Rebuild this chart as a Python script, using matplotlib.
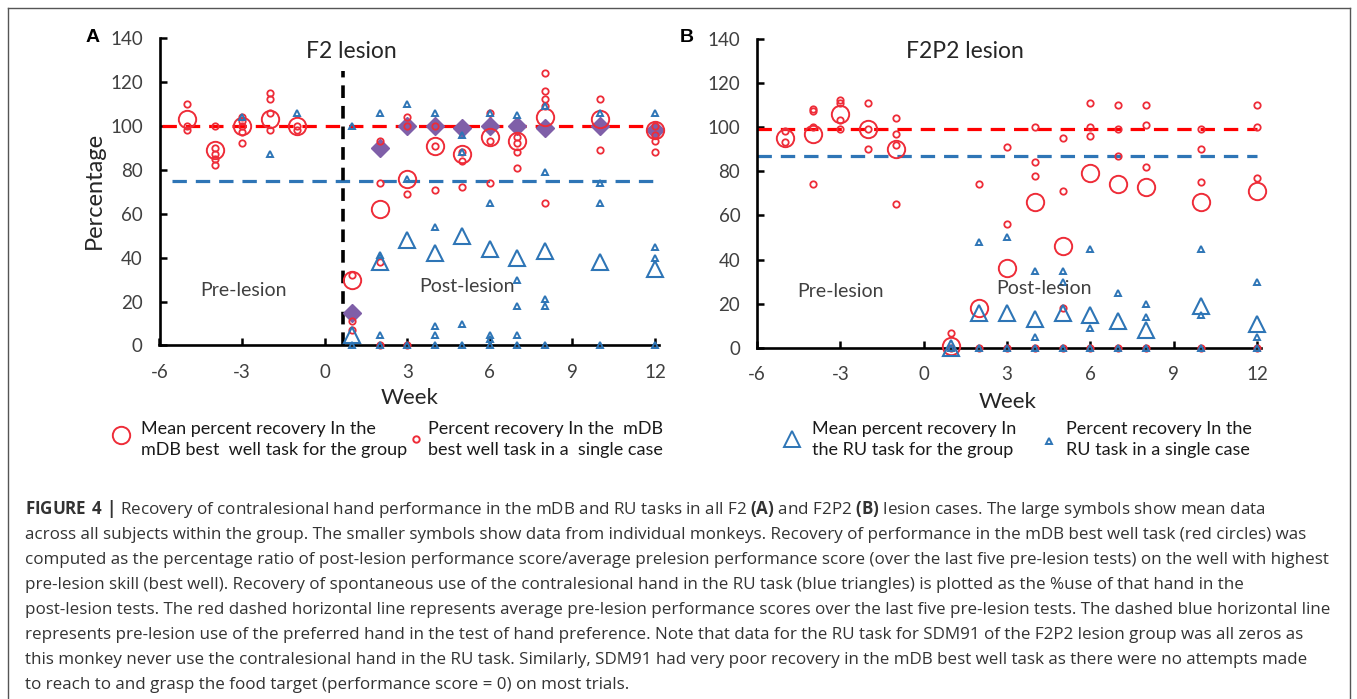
import matplotlib
matplotlib.use("Agg")
import matplotlib.pyplot as plt
from matplotlib.lines import Line2D

# ---------------- panel A : F2 lesion ----------------
a_weeks = [-5, -4, -3, -2, -1, 1, 2, 3, 4, 5, 6, 7, 8, 10, 12]
a_mdb_mean = [103, 89, 100, 103, 100, 30, 62, 76, 91, 87, 95, 93, 104, 103, 98]
a_mdb_cases = [
    [110, 100, 98],
    [100, 90, 87, 85, 82],
    [104, 102, 100, 97, 92],
    [115, 112, 106, 98],
    [100, 98],
    [32, 11, 7],
    [93, 74, 38, 0],
    [104, 100, 69, 0],
    [100, 91, 71],
    [88, 84, 72],
    [106, 93, 74],
    [95, 92, 88, 81],
    [124, 116, 112, 109, 65],
    [112, 89],
    [100, 96, 93, 88],
]
a_ru_weeks = [-3, -2, -1, 1, 2, 3, 4, 5, 6, 7, 8, 10, 12]
a_ru_cases = [
    [104],
    [87],
    [106],
    [100, 0],
    [106, 41, 5, 0],
    [110, 76, 0],
    [106, 54, 9, 5, 0],
    [96, 88, 10, 0],
    [106, 65, 5, 3, 0],
    [105, 30, 18, 5, 0],
    [109, 79, 21, 18, 0],
    [106, 74, 65, 0],
    [106, 45, 40, 0],
]
a_post_weeks = [1, 2, 3, 4, 5, 6, 7, 8, 10, 12]
a_ru_mean = [5, 38, 48, 42, 50, 44, 40, 43, 38, 35]
a_diamond = [15, 90, 100, 100, 99, 100, 100, 99, 100, 98]
a_mdb_base = 100
a_ru_base = 75
a_lesion_week = 0.68

# ---------------- panel B : F2P2 lesion ----------------
b_weeks = [-5, -4, -3, -2, -1, 1, 2, 3, 4, 5, 6, 7, 8, 10, 12]
b_mdb_mean = [95, 97, 106, 99, 90, 1, 18, 36, 66, 46, 79, 74, 73, 66, 71]
b_mdb_cases = [
    [98, 93],
    [108, 107, 100, 74],
    [112, 111, 103, 99],
    [111, 99, 90],
    [104, 97, 92, 65],
    [7, 0],
    [74, 0],
    [91, 56, 0],
    [100, 84, 78, 0],
    [95, 71, 18, 0],
    [111, 100, 96, 0],
    [110, 99, 87, 0],
    [110, 101, 82, 0],
    [99, 90, 75, 0],
    [110, 100, 77, 0],
]
b_post_weeks = [1, 2, 3, 4, 5, 6, 7, 8, 10, 12]
b_ru_mean = [0, 16, 16, 13, 16, 15, 12, 8, 19, 11]
b_ru_cases = [
    [0],
    [48, 0],
    [50, 0],
    [35, 5, 0],
    [35, 30, 0],
    [45, 9, 0],
    [25, 0],
    [20, 14, 0],
    [45, 15, 0],
    [30, 5, 0],
]
b_mdb_base = 99
b_ru_base = 87

x_ticks = [-6, -3, 0, 3, 6, 9, 12]
y_ticks = [0, 20, 40, 60, 80, 100, 120, 140]

caption_lines = [
    r"$\mathbf{FIGURE\ 4\ |}$ Recovery of contralesional hand performance in the mDB and RU tasks in all F2 $\mathbf{(A)}$ and F2P2 $\mathbf{(B)}$ lesion cases. The large symbols show mean data",
    "across all subjects within the group. The smaller symbols show data from individual monkeys. Recovery of performance in the mDB best well task (red circles) was",
    "computed as the percentage ratio of post-lesion performance score/average prelesion performance score (over the last five pre-lesion tests) on the well with highest",
    "pre-lesion skill (best well). Recovery of spontaneous use of the contralesional hand in the RU task (blue triangles) is plotted as the %use of that hand in the",
    "post-lesion tests. The red dashed horizontal line represents average pre-lesion performance scores over the last five pre-lesion tests. The dashed blue horizontal line",
    "represents pre-lesion use of the preferred hand in the test of hand preference. Note that data for the RU task for SDM91 of the F2P2 lesion group was all zeros as",
    "this monkey never use the contralesional hand in the RU task. Similarly, SDM91 had very poor recovery in the mDB best well task as there were no attempts made",
    "to reach to and grasp the food target (performance score = 0) on most trials.",
]

RED = "#EE2C38"
BLUE = "#2E75B6"
PURPLE = "#7F5FA8"
TICK_GREY = "#404040"

plt.rcParams["font.family"] = ["Lato", "DejaVu Sans"]
plt.rcParams["axes.unicode_minus"] = False
plt.rcParams["mathtext.fontset"] = "custom"
plt.rcParams["mathtext.rm"] = "Open Sans"
plt.rcParams["mathtext.bf"] = "Open Sans:bold"

W, H = 1357, 699


def fx(px):
    return px / W


def fy(py):
    return 1 - py / H


def flatten(weeks, groups):
    xs, ys = [], []
    for w, vals in zip(weeks, groups):
        for v in vals:
            xs.append(w)
            ys.append(v)
    return xs, ys


def style_axes(ax):
    ax.set_xlim(-6, 12.15)
    ax.set_ylim(0, 140)
    ax.set_xticks(x_ticks)
    ax.set_yticks(y_ticks)
    for side in ("top", "right"):
        ax.spines[side].set_visible(False)
    for side in ("left", "bottom"):
        ax.spines[side].set_linewidth(1.9)
        ax.spines[side].set_color("black")
    ax.tick_params(direction="in", length=5, width=1.8, labelsize=13.5,
                   labelcolor=TICK_GREY, color="black")
    ax.tick_params(axis="x", pad=13)
    ax.tick_params(axis="y", pad=12)
    ax.patch.set_alpha(0)


def draw_points(ax, mdb_w, mdb_cases, mdb_mean, ru_w, ru_cases, ru_mean_w, ru_mean):
    xs, ys = flatten(mdb_w, mdb_cases)
    ax.plot(xs, ys, "o", ms=4.6, mfc="none", mec=RED, mew=1.3, clip_on=False, zorder=4)
    ax.plot(mdb_w, mdb_mean, "o", ms=12.5, mfc="none", mec=RED, mew=1.4, clip_on=False, zorder=4)
    xs, ys = flatten(ru_w, ru_cases)
    ax.plot(xs, ys, "^", ms=5, mfc="none", mec=BLUE, mew=1.4, clip_on=False, zorder=4)
    ax.plot(ru_mean_w, ru_mean, "^", ms=12, mfc="none", mec=BLUE, mew=1.5, clip_on=False, zorder=4)


fig = plt.figure(figsize=(W / 100, H / 100), dpi=100)

# panel A
axA = fig.add_axes([fx(159.5), fy(345.5), fx(659.2) - fx(159.5), (345.5 - 38) / H])
style_axes(axA)
axA.hlines(a_mdb_base, -5.9, 12.0, colors="#FF0000", linestyles=(0, (4.5, 2.8)), lw=2.3, zorder=2)
axA.hlines(a_ru_base, -5.55, 12.1, colors=BLUE, linestyles=(0, (4.5, 2.8)), lw=2.3, zorder=2)
axA.vlines(a_lesion_week, 0, 125, colors="black", linestyles=(0, (3.5, 2.2)), lw=2.6, zorder=2)
axA.plot(a_post_weeks, a_diamond, "D", ms=9, color=PURPLE, mec=PURPLE, clip_on=False, zorder=3)
draw_points(axA, a_weeks, a_mdb_cases, a_mdb_mean, a_ru_weeks, a_ru_cases, a_post_weeks, a_ru_mean)

# panel B
axB = fig.add_axes([fx(757), fy(348), fx(1261.2) - fx(757), (348 - 38.5) / H])
style_axes(axB)
axB.hlines(b_mdb_base, -6, 12.0, colors="#FF0000", linestyles=(0, (4.5, 2.8)), lw=2.3, zorder=2)
axB.hlines(b_ru_base, -6, 12.0, colors=BLUE, linestyles=(0, (4.5, 2.8)), lw=2.3, zorder=2)
draw_points(axB, b_weeks, b_mdb_cases, b_mdb_mean, b_post_weeks, b_ru_cases, b_post_weeks, b_ru_mean)

# labels and annotations
fig.text(fx(93), fy(38), "A", fontsize=14, fontweight="bold", family="Liberation Sans",
         ha="center", va="center")
fig.text(fx(687), fy(38), "B", fontsize=14, fontweight="bold", family="Liberation Sans",
         ha="center", va="center")
fig.text(fx(306), fy(52), "F2 lesion", fontsize=16.5, color="#262626", va="center")
fig.text(fx(906), fy(52), "F2P2 lesion", fontsize=16.5, color="#262626", va="center")
fig.text(fx(94), fy(190), "Percentage", fontsize=17, color="#262626", rotation=90,
         ha="center", va="center")
fig.text(fx(410), fy(398), "Week", fontsize=16, color="#262626", ha="center", va="center")
fig.text(fx(1008), fy(402), "Week", fontsize=16, color="#262626", ha="center", va="center")
for px, py, s in [(200, 290, "Pre-lesion"), (419, 287, "Post-lesion"),
                  (797, 292, "Pre-lesion"), (996, 288, "Post-lesion")]:
    fig.text(fx(px), fy(py), s, fontsize=14, color="#404040", va="center")

# legend rows under each panel
legend_items = [
    (121, 435, "o", 12.5, RED, 141, "Mean percent recovery In the\nmDB best  well task for the group"),
    (416, 439, "o", 4.6, RED, 428, "Percent recovery In the  mDB\nbest well task in a  single case"),
    (792, 439, "^", 12, BLUE, 812, "Mean percent recovery In\nthe RU task for the group"),
    (1049, 441, "^", 5, BLUE, 1066, "Percent recovery In the\nRU task in a single case"),
]
for mx, my, mk, ms, col, tx, label in legend_items:
    fig.add_artist(Line2D([fx(mx)], [fy(my)], marker=mk, ms=ms, mfc="none", mec=col,
                          mew=1.4, transform=fig.transFigure))
    fig.text(fx(tx), fy(439.5), label, fontsize=13, color="#1a1a1a", va="center",
             linespacing=1.35)

# caption
for i, line in enumerate(caption_lines):
    fig.text(fx(25), fy(514 + 25 * i), line, fontsize=12.25, family="Open Sans",
             color="#333333", va="baseline")

# outer frame
frame = dict(color="#555555", lw=1.0, transform=fig.transFigure)
fig.add_artist(Line2D([fx(7.5), fx(7.5)], [fy(8), 0], **frame))
fig.add_artist(Line2D([fx(7.5), fx(1349.5)], [fy(8), fy(8)], **frame))
fig.add_artist(Line2D([fx(1349.5), fx(1349.5)], [fy(8), 0], **frame))

fig.savefig("out.png", dpi=100)
